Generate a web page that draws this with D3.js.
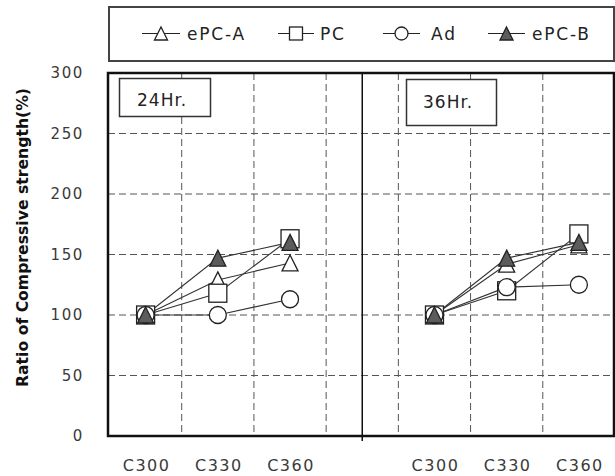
<!DOCTYPE html>
<html>
<head>
<meta charset="utf-8">
<script src="https://cdn.jsdelivr.net/npm/d3@7"></script>
<style>
  html, body { margin: 0; padding: 0; background: #fff; }
  svg { display: block; }
</style>
</head>
<body>
<div id="chart"></div>
<script>
// ---------- data ----------
const categories = ["C300", "C330", "C360"];
const panels = ["24Hr.", "36Hr."];
const seriesNames = ["ePC-A", "PC", "Ad", "ePC-B"];
const ePCA_24h = [100, 129, 143];
const PC_24h   = [100, 118, 163];
const Ad_24h   = [100, 100, 113];
const ePCB_24h = [100, 147, 160];
const ePCA_36h = [100, 142, 158];
const PC_36h   = [100, 120, 167];
const Ad_36h   = [100, 123, 125];
const ePCB_36h = [100, 147, 160];
const yTicks = [0, 50, 100, 150, 200, 250, 300];
const yTitle = "Ratio of Compressive strength(%)";

// ---------- layout ----------
const W = 615, H = 476;
const plot = { left: 108, right: 614, top: 73, bottom: 436 };
const svg = d3.select("#chart").append("svg").attr("width", W).attr("height", H);

// slots: 3 categories, a gap, 3 categories
const slots = [];
panels.forEach((p, i) => {
  categories.forEach(c => slots.push(p + "|" + c));
  if (i === 0) slots.push("gap");
});
const x = d3.scaleBand().domain(slots).range([109.5, 615]).padding(0);
const y = d3.scaleLinear().domain([0, 300]).range([436, 73]);

const seriesData = {
  "24Hr.": [ePCA_24h, PC_24h, Ad_24h, ePCB_24h],
  "36Hr.": [ePCA_36h, PC_36h, Ad_36h, ePCB_36h]
};

// ---------- gridlines ----------
const grid = svg.append("g");
grid.selectAll("line.h").data(yTicks.filter(t => t > 0 && t < 300)).join("line")
  .attr("x1", plot.left).attr("x2", plot.right)
  .attr("y1", d => y(d)).attr("y2", d => y(d))
  .attr("stroke", "#555").attr("stroke-width", 1).attr("stroke-dasharray", "7,4");
const boundaryXs = [];
slots.forEach((s, i) => { if (i > 0) boundaryXs.push(x(s)); });
grid.selectAll("line.v").data(boundaryXs).join("line")
  .attr("x1", d => d).attr("x2", d => d)
  .attr("y1", plot.top).attr("y2", plot.bottom)
  .attr("stroke", "#555").attr("stroke-width", 1).attr("stroke-dasharray", "7,4");

// divider between panels
const divX = x("gap") + x.bandwidth() / 2;
svg.append("line").attr("x1", divX).attr("x2", divX)
  .attr("y1", plot.top).attr("y2", plot.bottom + 5)
  .attr("stroke", "#111").attr("stroke-width", 1.5);

// plot border
svg.append("rect").attr("x", plot.left).attr("y", plot.top)
  .attr("width", plot.right - plot.left).attr("height", plot.bottom - plot.top)
  .attr("fill", "none").attr("stroke", "#111").attr("stroke-width", 2.5);

// ---------- axes text ----------
svg.append("g").selectAll("text").data(yTicks).join("text")
  .attr("x", 84).attr("y", d => y(d)).attr("dy", "0.36em")
  .attr("text-anchor", "end")
  .attr("font-family", "DejaVu Sans, Verdana, sans-serif").attr("font-size", 15)
  .attr("letter-spacing", "1.6px").attr("fill", "#3a3a3a")
  .text(d => d);

svg.append("g").selectAll("text").data(slots.filter(s => s !== "gap")).join("text")
  .attr("x", d => x(d) + x.bandwidth() / 2 + 1).attr("y", 471)
  .attr("text-anchor", "middle")
  .attr("font-family", "DejaVu Sans, Verdana, sans-serif").attr("font-size", 16)
  .attr("letter-spacing", "1.5px").attr("fill", "#3a3a3a")
  .text(d => d.split("|")[1]);

svg.append("text")
  .attr("transform", "translate(27.5,237.5) rotate(-90)")
  .attr("text-anchor", "middle")
  .attr("font-family", "DejaVu Sans, Verdana, sans-serif").attr("font-size", 16)
  .attr("font-weight", "bold").attr("fill", "#111")
  .attr("textLength", 299).attr("lengthAdjust", "spacingAndGlyphs")
  .text(yTitle);

// ---------- panel labels ----------
const panelBoxes = [
  { label: panels[0], x: 119.5, y: 78.5, w: 91, h: 38, tx: 137, ty: 106 },
  { label: panels[1], x: 406.5, y: 79.5, w: 90, h: 46, tx: 423, ty: 108 }
];
panelBoxes.forEach(b => {
  svg.append("rect").attr("x", b.x).attr("y", b.y).attr("width", b.w).attr("height", b.h)
    .attr("fill", "#fff").attr("stroke", "#333").attr("stroke-width", 1.5);
  svg.append("text").attr("x", b.tx).attr("y", b.ty)
    .attr("font-family", "DejaVu Sans, Verdana, sans-serif").attr("font-size", 17)
    .attr("letter-spacing", "1px").attr("fill", "#222").text(b.label);
});

// ---------- markers ----------
const markerKinds = ["triOpen", "square", "circle", "triFilled"];
function drawMarker(g, kind, cx, cy, s) {
  const h = s / 2;
  if (kind === "square") {
    g.append("rect").attr("x", cx - h).attr("y", cy - h).attr("width", s).attr("height", s)
      .attr("fill", "#fff").attr("stroke", "#222").attr("stroke-width", 1.3);
  } else if (kind === "circle") {
    g.append("circle").attr("cx", cx).attr("cy", cy).attr("r", h)
      .attr("fill", "#fff").attr("stroke", "#222").attr("stroke-width", 1.3);
  } else {
    const p = d3.path();
    p.moveTo(cx, cy - h); p.lineTo(cx + h, cy + h); p.lineTo(cx - h, cy + h); p.closePath();
    g.append("path").attr("d", p.toString())
      .attr("fill", kind === "triFilled" ? "#5c5c5c" : "#fff")
      .attr("stroke", "#222").attr("stroke-width", 1.3);
  }
}
const markerSize = { triOpen: 16, square: 18, circle: 17, triFilled: 16 };

// ---------- series lines and markers ----------
const lineGen = d3.line().x(d => d[0]).y(d => d[1]);
const linesG = svg.append("g");
const marksG = svg.append("g");
panels.forEach(p => {
  seriesData[p].forEach((vals, si) => {
    const pts = vals.map((v, i) => [x(p + "|" + categories[i]) + x.bandwidth() / 2, y(v)]);
    linesG.append("path").attr("d", lineGen(pts))
      .attr("fill", "none").attr("stroke", "#333").attr("stroke-width", 1.1);
  });
});
seriesNames.forEach((name, si) => {
  panels.forEach(p => {
    const vals = seriesData[p][si];
    vals.forEach((v, i) => {
      drawMarker(marksG, markerKinds[si], x(p + "|" + categories[i]) + x.bandwidth() / 2, y(v), markerSize[markerKinds[si]]);
    });
  });
});

// ---------- legend ----------
svg.append("rect").attr("x", 109).attr("y", 7).attr("width", 505).attr("height", 54)
  .attr("fill", "#fff").attr("stroke", "#444").attr("stroke-width", 2);
const legendItems = [
  { x1: 142, x2: 180, tx: 187 },
  { x1: 278, x2: 314, tx: 320 },
  { x1: 383, x2: 420, tx: 431 },
  { x1: 488, x2: 525, tx: 532 }
];
const ly = 33.5;
seriesNames.forEach((name, i) => {
  const it = legendItems[i];
  const g = svg.append("g");
  g.append("line").attr("x1", it.x1).attr("x2", it.x2).attr("y1", ly).attr("y2", ly)
    .attr("stroke", "#222").attr("stroke-width", 1.2);
  drawMarker(g, markerKinds[i], (it.x1 + it.x2) / 2, ly, 13);
  g.append("text").attr("x", it.tx).attr("y", ly).attr("dy", "0.36em")
    .attr("font-family", "DejaVu Sans, Verdana, sans-serif").attr("font-size", 17)
    .attr("letter-spacing", "1.8px").attr("fill", "#222").text(name);
});
</script>
</body>
</html>
